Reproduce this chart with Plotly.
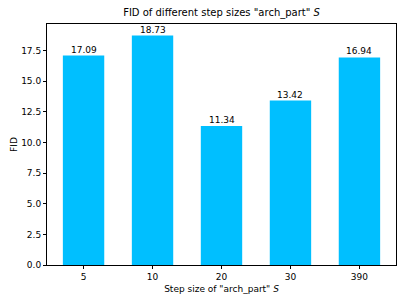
import plotly.graph_objects as go

categories = ["5", "10", "20", "30", "390"]
fid_values = [17.09, 18.73, 11.34, 13.42, 16.94]
y_ticks = [0.0, 2.5, 5.0, 7.5, 10.0, 12.5, 15.0, 17.5]
y_tick_labels = ["0.0", "2.5", "5.0", "7.5", "10.0", "12.5", "15.0", "17.5"]

font_family = "DejaVu Sans"
fs = 9

x_pos = list(range(len(categories)))

fig = go.Figure()
fig.add_trace(go.Bar(
    x=x_pos,
    y=fid_values,
    width=0.6,
    marker=dict(color="#00BFFF", line=dict(width=0)),
    hoverinfo="skip",
))

for xp, v in zip(x_pos, fid_values):
    fig.add_annotation(
        x=xp, y=v, xref="x", yref="y",
        text=f"{v:.2f}", showarrow=False,
        xanchor="center", yanchor="bottom", yshift=-1,
        font=dict(family=font_family, size=fs, color="black"),
    )

fig.update_layout(
    width=407, height=305,
    margin=dict(l=47, r=11, t=24, b=40),
    paper_bgcolor="white", plot_bgcolor="white",
    showlegend=False,
    font=dict(family=font_family, size=fs, color="black"),
    title=dict(
        text='FID of different step sizes "arch_part" <i>S</i>',
        x=(47 + 396) / 2 / 407, xanchor="center",
        y=1 - 12 / 305, yanchor="middle", yref="container",
        font=dict(family=font_family, size=fs + 1, color="black"),
    ),
)

fig.update_xaxes(
    range=[-0.53, 4.53],
    tickmode="array", tickvals=x_pos, ticktext=categories,
    ticks="outside", ticklen=3, tickcolor="black", tickwidth=1,
    showline=True, linecolor="black", linewidth=1, mirror=True,
    showgrid=False, zeroline=False, automargin=False,
    title=dict(text='Step size of "arch_part" <i>S</i>', standoff=4,
               font=dict(family=font_family, size=fs)),
)
fig.update_yaxes(
    range=[0, 19.67],
    tickmode="array", tickvals=y_ticks, ticktext=y_tick_labels,
    ticks="outside", ticklen=3, tickcolor="black", tickwidth=1,
    showline=True, linecolor="black", linewidth=1, mirror=True,
    showgrid=False, zeroline=False, automargin=False,
    title=dict(text="FID", standoff=2, font=dict(family=font_family, size=fs)),
)

fig.write_html("out.html", config={"displayModeBar": False},
               post_script="document.body.style.margin='0';")
